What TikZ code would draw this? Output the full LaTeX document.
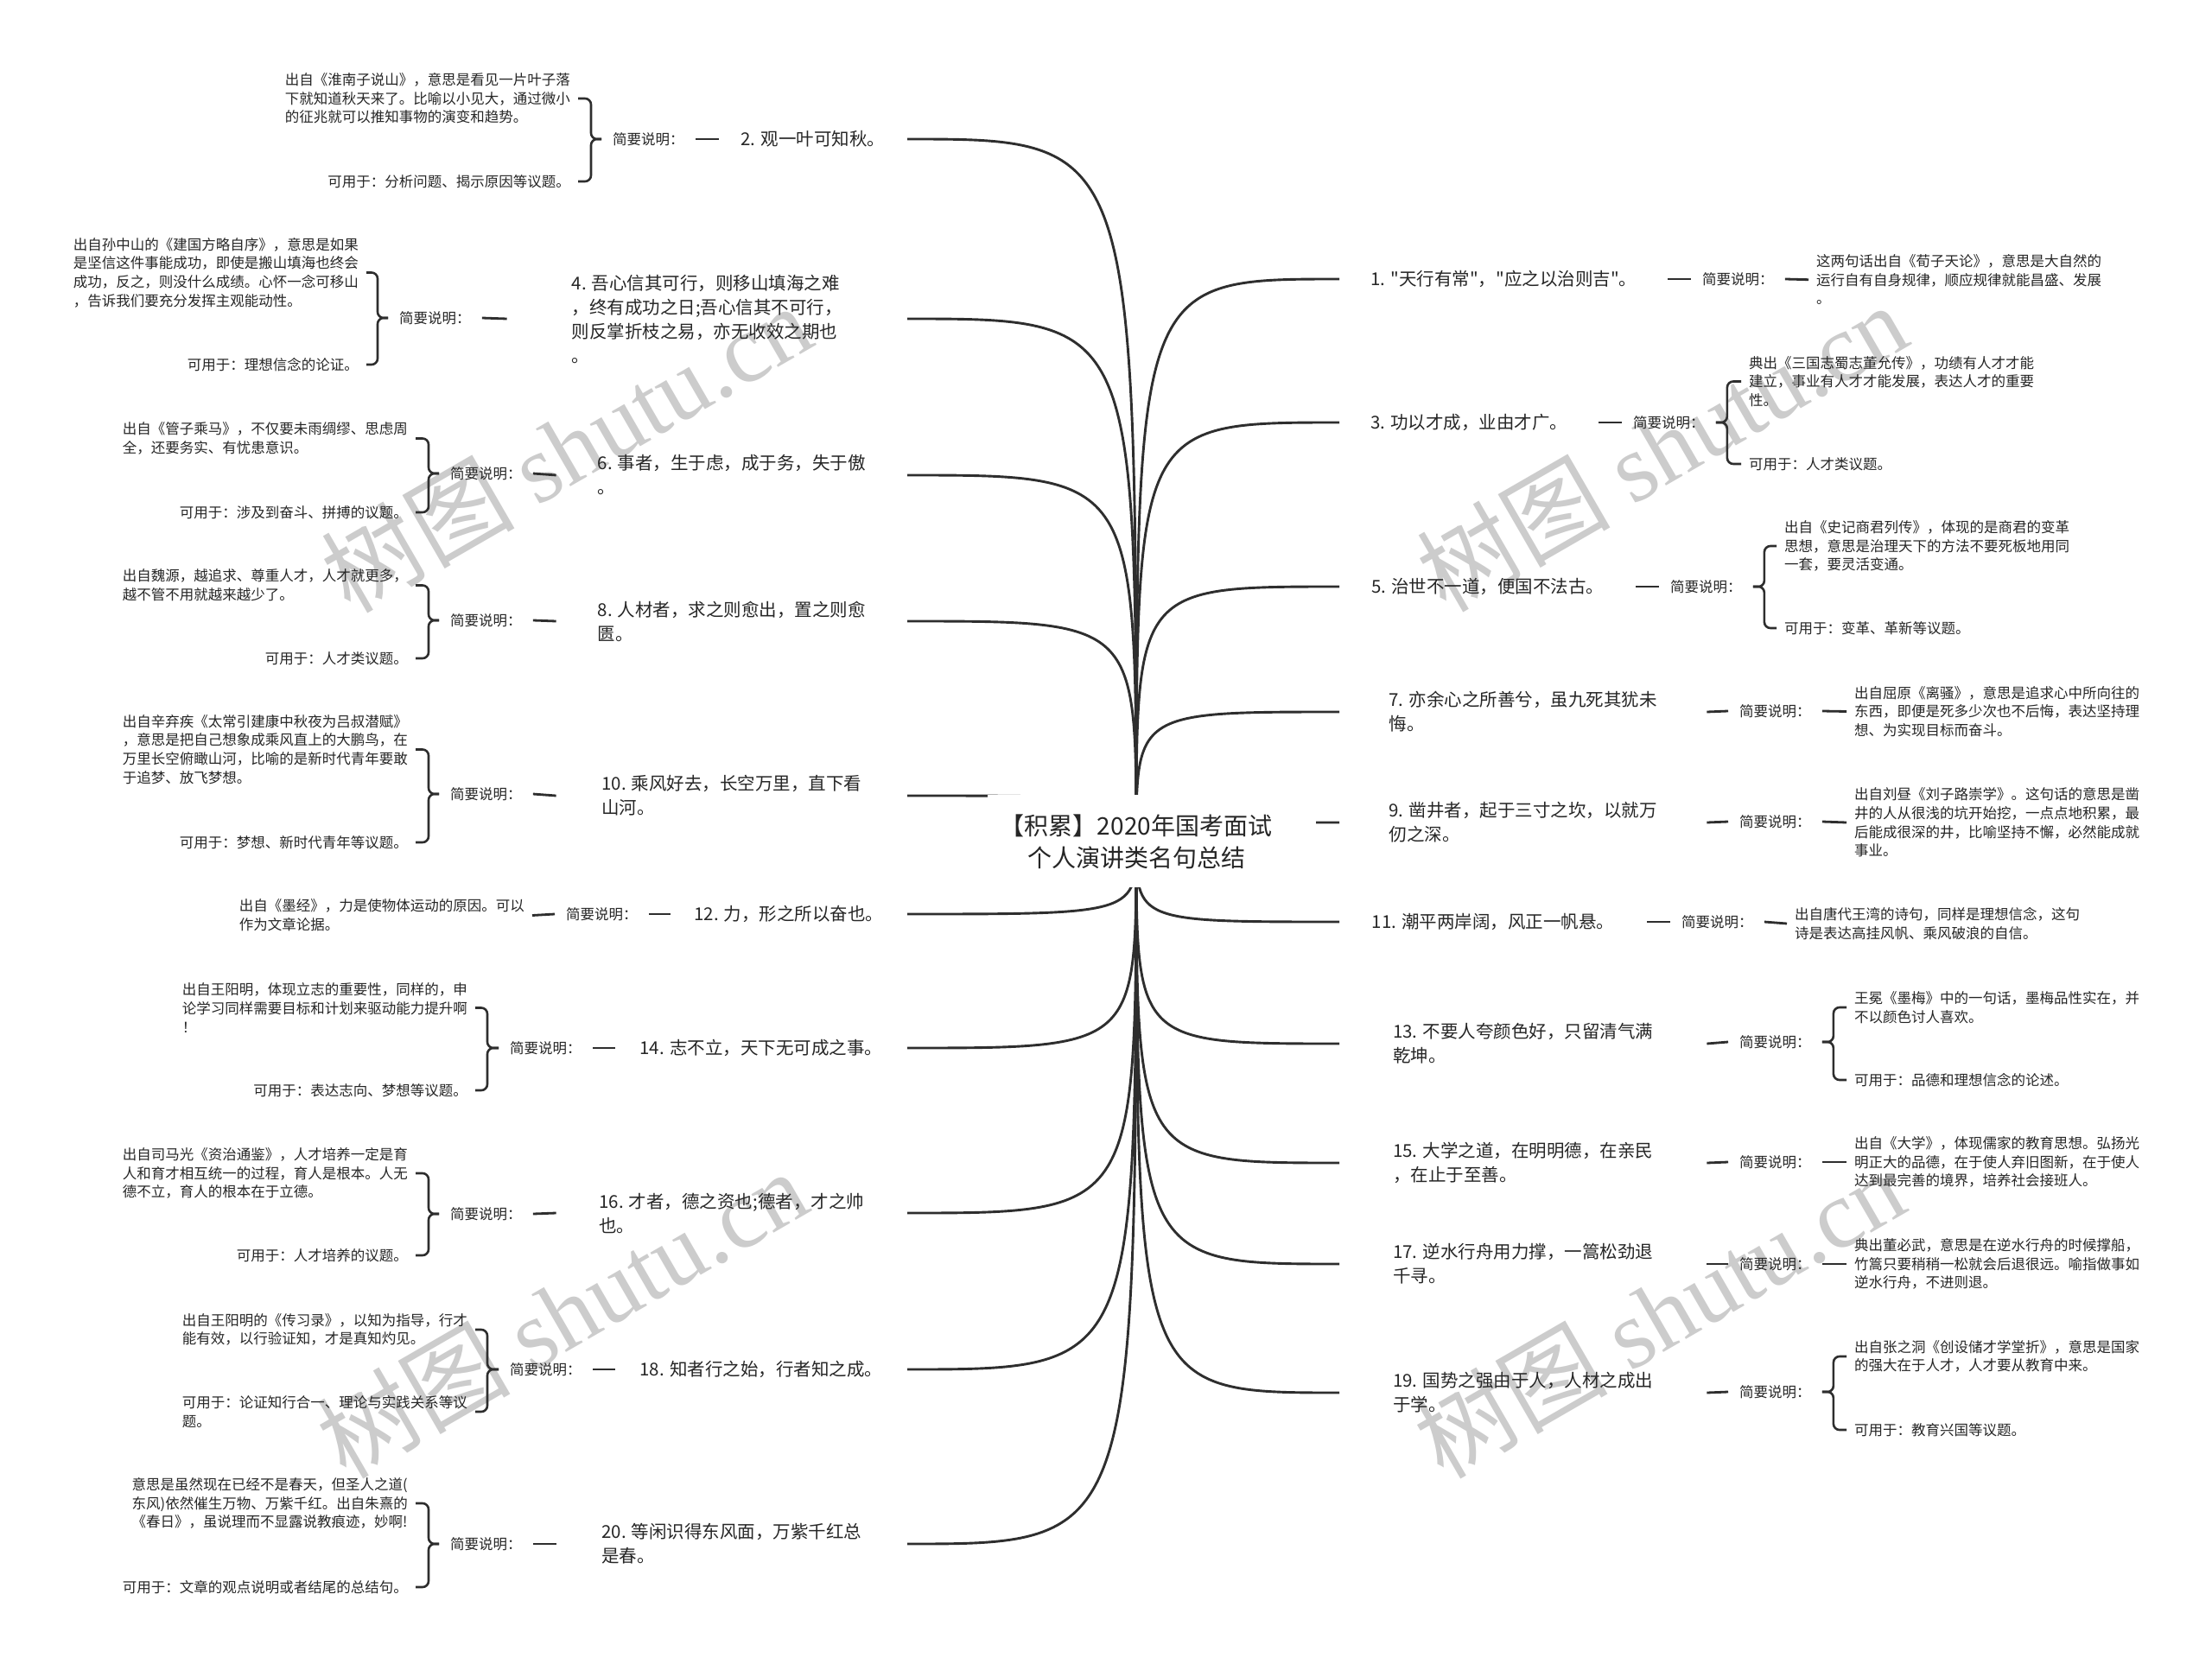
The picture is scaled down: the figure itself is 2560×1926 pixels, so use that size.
\documentclass[tikz,border=0pt]{standalone}
\usepackage{fontspec}
\setmainfont{Noto Sans CJK SC}
\newfontfamily\cjkfont{Noto Sans CJK SC}
\newfontfamily\wmserif{Liberation Serif}
\usetikzlibrary{calc,backgrounds}
\begin{document}
\begin{tikzpicture}[x=1pt,y=-1pt]
\tikzset{
  ntext/.style={text=black!85, inner xsep=0pt, inner ysep=0pt, align=left, font=\cjkfont\fontsize{20.5}{28}\selectfont},
  lnode/.style={ntext, anchor=east},
  rnode/.style={ntext, anchor=west},
  ldesc/.style={text=black!85, inner xsep=9pt, inner ysep=0pt, align=left, anchor=east, font=\cjkfont\fontsize{16.5}{21.7}\selectfont},
  rdesc/.style={ldesc, anchor=west},
  lab/.style={text=black!85, inner xsep=13pt, inner ysep=0pt, anchor=west, font=\cjkfont\fontsize{16.5}{21.7}\selectfont},
  dashline/.style={draw=black!82, line width=2.8pt},
  brace/.style={draw=black!82, line width=2.6pt, rounded corners=7pt},
  branch/.style={draw=black!82, line width=2.9pt},
  wm/.style={text=black!20, font=\cjkfont\fontsize{112}{112}\selectfont, inner sep=0pt, rotate=30},
  roottext/.style={text=black!85, align=center, font=\cjkfont\fontsize{28}{37}\selectfont, inner sep=0pt},
}
\useasboundingbox (0,0) rectangle (2560,1926);

% root
\node[roottext] (root) at (1315,974) {【积累】2020年国考面试\\个人演讲类名句总结};

% ---------------- LEFT ----------------
% item 2
\node[lnode, minimum width=218pt] (n2) at (1050,161) {2. 观一叶可知秋。};
\node[lab] (l2) at (696,161) {简要说明：};
\node[ldesc] (d2a) at (669,114) {出自《淮南子说山》，意思是看见一片叶子落\\下就知道秋天来了。比喻以小见大，通过微小\\的征兆就可以推知事物的演变和趋势。};
\node[ldesc] (d2b) at (669,210) {可用于：分析问题、揭示原因等议题。};
\draw[dashline] (n2.west) -- (l2.east);
\draw[brace] (d2a.east) -| ([xshift=-12pt]l2.west) -- (l2.west);
\draw[brace] (d2b.east) -| ([xshift=-12pt]l2.west) -- (l2.west);

% item 4
\node[lnode, minimum width=463pt] (n4) at (1050,369) {4. 吾心信其可行，则移山填海之难\\，终有成功之日;吾心信其不可行，\\则反掌折枝之易，亦无收效之期也\\。};
\node[lab] (l4) at (449,368) {简要说明：};
\node[ldesc] (d4a) at (424,315.5) {出自孙中山的《建国方略自序》，意思是如果\\是坚信这件事能成功，即使是搬山填海也终会\\成功，反之，则没什么成绩。心怀一念可移山\\，告诉我们要充分发挥主观能动性。};
\node[ldesc] (d4b) at (424,422) {可用于：理想信念的论证。};
\draw[dashline] (n4.west) -- (l4.east);
\draw[brace] (d4a.east) -| ([xshift=-12pt]l4.west) -- (l4.west);
\draw[brace] (d4b.east) -| ([xshift=-12pt]l4.west) -- (l4.west);

% item 6
\node[lnode, minimum width=406pt] (n6) at (1050,550) {6. 事者，生于虑，成于务，失于傲\\。};
\node[lab] (l6) at (508,548) {简要说明：};
\node[ldesc] (d6a) at (481,507.5) {出自《管子乘马》，不仅要未雨绸缪、思虑周\\全，还要务实、有忧患意识。};
\node[ldesc] (d6b) at (481,593) {可用于：涉及到奋斗、拼搏的议题。};
\draw[dashline] (n6.west) -- (l6.east);
\draw[brace] (d6a.east) -| ([xshift=-12pt]l6.west) -- (l6.west);
\draw[brace] (d6b.east) -| ([xshift=-12pt]l6.west) -- (l6.west);

% item 8
\node[lnode, minimum width=406pt] (n8) at (1050,719) {8. 人材者，求之则愈出，置之则愈\\匮。};
\node[lab] (l8) at (508,718) {简要说明：};
\node[ldesc] (d8a) at (481,677.5) {出自魏源，越追求、尊重人才，人才就更多，\\越不管不用就越来越少了。};
\node[ldesc] (d8b) at (481,762) {可用于：人才类议题。};
\draw[dashline] (n8.west) -- (l8.east);
\draw[brace] (d8a.east) -| ([xshift=-12pt]l8.west) -- (l8.west);
\draw[brace] (d8b.east) -| ([xshift=-12pt]l8.west) -- (l8.west);

% item 10
\node[lnode, minimum width=406pt] (n10) at (1050,921) {10. 乘风好去，长空万里，直下看\\山河。};
\node[lab] (l10) at (508,919) {简要说明：};
\node[ldesc] (d10a) at (481,867.5) {出自辛弃疾《太常引建康中秋夜为吕叔潜赋》\\，意思是把自己想象成乘风直上的大鹏鸟，在\\万里长空俯瞰山河，比喻的是新时代青年要敢\\于追梦、放飞梦想。};
\node[ldesc] (d10b) at (481,975) {可用于：梦想、新时代青年等议题。};
\draw[dashline] (n10.west) -- (l10.east);
\draw[brace] (d10a.east) -| ([xshift=-12pt]l10.west) -- (l10.west);
\draw[brace] (d10b.east) -| ([xshift=-12pt]l10.west) -- (l10.west);

% item 12
\node[lnode, minimum width=274pt] (n12) at (1050,1058) {12. 力，形之所以奋也。};
\node[lab] (l12) at (642,1058) {简要说明：};
\node[ldesc] (d12) at (616,1059.5) {出自《墨经》，力是使物体运动的原因。可以\\作为文章论据。};
\draw[dashline] (n12.west) -- (l12.east);
\draw[dashline] (d12.east) -- (l12.west);

% item 14
\node[lnode, minimum width=338pt] (n14) at (1050,1213) {14. 志不立，天下无可成之事。};
\node[lab] (l14) at (577,1213) {简要说明：};
\node[ldesc] (d14a) at (550,1166.5) {出自王阳明，体现立志的重要性，同样的，申\\论学习同样需要目标和计划来驱动能力提升啊\\！};
\node[ldesc] (d14b) at (550,1262) {可用于：表达志向、梦想等议题。};
\draw[dashline] (n14.west) -- (l14.east);
\draw[brace] (d14a.east) -| ([xshift=-13pt]l14.west) -- (l14.west);
\draw[brace] (d14b.east) -| ([xshift=-13pt]l14.west) -- (l14.west);

% item 16
\node[lnode, minimum width=406pt] (n16) at (1050,1404) {16. 才者，德之资也;德者，才之帅\\也。};
\node[lab] (l16) at (508,1405) {简要说明：};
\node[ldesc] (d16a) at (481,1358) {出自司马光《资治通鉴》，人才培养一定是育\\人和育才相互统一的过程，育人是根本。人无\\德不立，育人的根本在于立德。};
\node[ldesc] (d16b) at (481,1453) {可用于：人才培养的议题。};
\draw[dashline] (n16.west) -- (l16.east);
\draw[brace] (d16a.east) -| ([xshift=-12pt]l16.west) -- (l16.west);
\draw[brace] (d16b.east) -| ([xshift=-12pt]l16.west) -- (l16.west);

% item 18
\node[lnode, minimum width=338pt] (n18) at (1050,1585) {18. 知者行之始，行者知之成。};
\node[lab] (l18) at (577,1585) {简要说明：};
\node[ldesc] (d18a) at (550,1539) {出自王阳明的《传习录》，以知为指导，行才\\能有效，以行验证知，才是真知灼见。};
\node[ldesc] (d18b) at (550,1634) {可用于：论证知行合一、理论与实践关系等议\\题。};
\draw[dashline] (n18.west) -- (l18.east);
\draw[brace] (d18a.east) -| ([xshift=-13pt]l18.west) -- (l18.west);
\draw[brace] (d18b.east) -| ([xshift=-13pt]l18.west) -- (l18.west);

% item 20
\node[lnode, minimum width=406pt] (n20) at (1050,1787) {20. 等闲识得东风面，万紫千红总\\是春。};
\node[lab] (l20) at (508,1787) {简要说明：};
\node[ldesc] (d20a) at (481,1740) {意思是虽然现在已经不是春天，但圣人之道(\\东风)依然催生万物、万紫千红。出自朱熹的\\《春日》，虽说理而不显露说教痕迹，妙啊!};
\node[ldesc] (d20b) at (481,1837) {可用于：文章的观点说明或者结尾的总结句。};
\draw[dashline] (n20.west) -- (l20.east);
\draw[brace] (d20a.east) -| ([xshift=-12pt]l20.west) -- (l20.west);
\draw[brace] (d20b.east) -| ([xshift=-12pt]l20.west) -- (l20.west);

% ---------------- RIGHT ----------------
% item 1
\node[rnode, minimum width=380pt] (n1) at (1550,323) {1. "天行有常"，"应之以治则吉"。};
\node[lab] (l1) at (1957,323) {简要说明：};
\node[rdesc] (d1) at (2093,323.7) {这两句话出自《荀子天论》，意思是大自然的\\运行自有自身规律，顺应规律就能昌盛、发展\\。};
\draw[dashline] (n1.east) -- (l1.west);
\draw[dashline] (l1.east) -- (d1.west);

% item 3
\node[rnode, minimum width=300pt] (n3) at (1550,489) {3. 功以才成，业由才广。};
\node[lab] (l3) at (1877,489) {简要说明：};
\node[rdesc] (d3a) at (2015,441.5) {典出《三国志蜀志董允传》，功绩有人才才能\\建立，事业有人才才能发展，表达人才的重要\\性。};
\node[rdesc] (d3b) at (2015,537) {可用于：人才类议题。};
\draw[dashline] (n3.east) -- (l3.west);
\draw[brace] (d3a.west) -| ([xshift=13pt]l3.east) -- (l3.east);
\draw[brace] (d3b.west) -| ([xshift=13pt]l3.east) -- (l3.east);

% item 5
\node[rnode, minimum width=343pt] (n5) at (1550,679) {5. 治世不一道，便国不法古。};
\node[lab] (l5) at (1920,679) {简要说明：};
\node[rdesc] (d5a) at (2056,632) {出自《史记商君列传》，体现的是商君的变革\\思想，意思是治理天下的方法不要死板地用同\\一套，要灵活变通。};
\node[rdesc] (d5b) at (2056,727) {可用于：变革、革新等议题。};
\draw[dashline] (n5.east) -- (l5.west);
\draw[brace] (d5a.west) -| ([xshift=13pt]l5.east) -- (l5.east);
\draw[brace] (d5b.west) -| ([xshift=13pt]l5.east) -- (l5.east);

% item 7
\node[rnode, minimum width=425pt] (n7) at (1550,824) {7. 亦余心之所善兮，虽九死其犹未\\悔。};
\node[lab] (l7) at (2000,823) {简要说明：};
\node[rdesc] (d7) at (2137,823.5) {出自屈原《离骚》，意思是追求心中所向往的\\东西，即便是死多少次也不后悔，表达坚持理\\想、为实现目标而奋斗。};
\draw[dashline] (n7.east) -- (l7.west);
\draw[dashline] (l7.east) -- (d7.west);

% item 9
\node[rnode, minimum width=425pt] (n9) at (1550,952) {9. 凿井者，起于三寸之坎，以就万\\仞之深。};
\node[lab] (l9) at (2000,951) {简要说明：};
\node[rdesc] (d9) at (2137,952) {出自刘昼《刘子路崇学》。这句话的意思是凿\\井的人从很浅的坑开始挖，一点点地积累，最\\后能成很深的井，比喻坚持不懈，必然能成就\\事业。};
\draw[dashline] (n9.east) -- (l9.west);
\draw[dashline] (l9.east) -- (d9.west);

% item 11
\node[rnode, minimum width=356pt] (n11) at (1550,1067) {11. 潮平两岸阔，风正一帆悬。};
\node[lab] (l11) at (1933,1067) {简要说明：};
\node[rdesc] (d11) at (2068,1069) {出自唐代王湾的诗句，同样是理想信念，这句\\诗是表达高挂风帆、乘风破浪的自信。};
\draw[dashline] (n11.east) -- (l11.west);
\draw[dashline] (l11.east) -- (d11.west);

% item 13
\node[rnode, minimum width=425pt] (n13) at (1550,1208) {13. 不要人夸颜色好，只留清气满\\乾坤。};
\node[lab] (l13) at (2000,1206) {简要说明：};
\node[rdesc] (d13a) at (2137,1166) {王冕《墨梅》中的一句话，墨梅品性实在，并\\不以颜色讨人喜欢。};
\node[rdesc] (d13b) at (2137,1250) {可用于：品德和理想信念的论述。};
\draw[dashline] (n13.east) -- (l13.west);
\draw[brace] (d13a.west) -| ([xshift=13pt]l13.east) -- (l13.east);
\draw[brace] (d13b.west) -| ([xshift=13pt]l13.east) -- (l13.east);

% item 15
\node[rnode, minimum width=425pt] (n15) at (1550,1346) {15. 大学之道，在明明德，在亲民\\，在止于至善。};
\node[lab] (l15) at (2000,1345) {简要说明：};
\node[rdesc] (d15) at (2137,1345) {出自《大学》，体现儒家的教育思想。弘扬光\\明正大的品德，在于使人弃旧图新，在于使人\\达到最完善的境界，培养社会接班人。};
\draw[dashline] (n15.east) -- (l15.west);
\draw[dashline] (l15.east) -- (d15.west);

% item 17
\node[rnode, minimum width=425pt] (n17) at (1550,1463) {17. 逆水行舟用力撑，一篙松劲退\\千寻。};
\node[lab] (l17) at (2000,1463) {简要说明：};
\node[rdesc] (d17) at (2137,1463) {典出董必武，意思是在逆水行舟的时候撑船，\\竹篙只要稍稍一松就会后退很远。喻指做事如\\逆水行舟，不进则退。};
\draw[dashline] (n17.east) -- (l17.west);
\draw[dashline] (l17.east) -- (d17.west);

% item 19
\node[rnode, minimum width=425pt] (n19) at (1550,1612) {19. 国势之强由于人，人材之成出\\于学。};
\node[lab] (l19) at (2000,1611) {简要说明：};
\node[rdesc] (d19a) at (2137,1570) {出自张之洞《创设储才学堂折》，意思是国家\\的强大在于人才，人才要从教育中来。};
\node[rdesc] (d19b) at (2137,1655) {可用于：教育兴国等议题。};
\draw[dashline] (n19.east) -- (l19.west);
\draw[brace] (d19a.west) -| ([xshift=13pt]l19.east) -- (l19.east);
\draw[brace] (d19b.west) -| ([xshift=13pt]l19.east) -- (l19.east);

% ---------------- background: page, watermarks, branches ----------------
\begin{scope}[on background layer]
  \fill[white] (0,0) rectangle (2560,1926);
  \node[wm] (wm1) at (655,518) {树图 {\wmserif shutu.cn}};
  \node[wm] (wm2) at (1923,517) {树图 {\wmserif shutu.cn}};
  \node[wm] (wm3) at (650,1520) {树图 {\wmserif shutu.cn}};
  \node[wm] (wm4) at (1920,1520) {树图 {\wmserif shutu.cn}};
  \foreach \n in {n2,n4,n6,n8,n10,n12,n14,n16,n18,n20}
    \draw[branch] (root.center) .. controls (root.center |- \n.east) .. (\n.east);
  \foreach \n in {n1,n3,n5,n7,n9,n11,n13,n15,n17,n19}
    \draw[branch] (root.center) .. controls (root.center |- \n.west) .. (\n.west);
  \fill[white] (1143,920) rectangle (1523,1027);
\end{scope}
\end{tikzpicture}
\end{document}
